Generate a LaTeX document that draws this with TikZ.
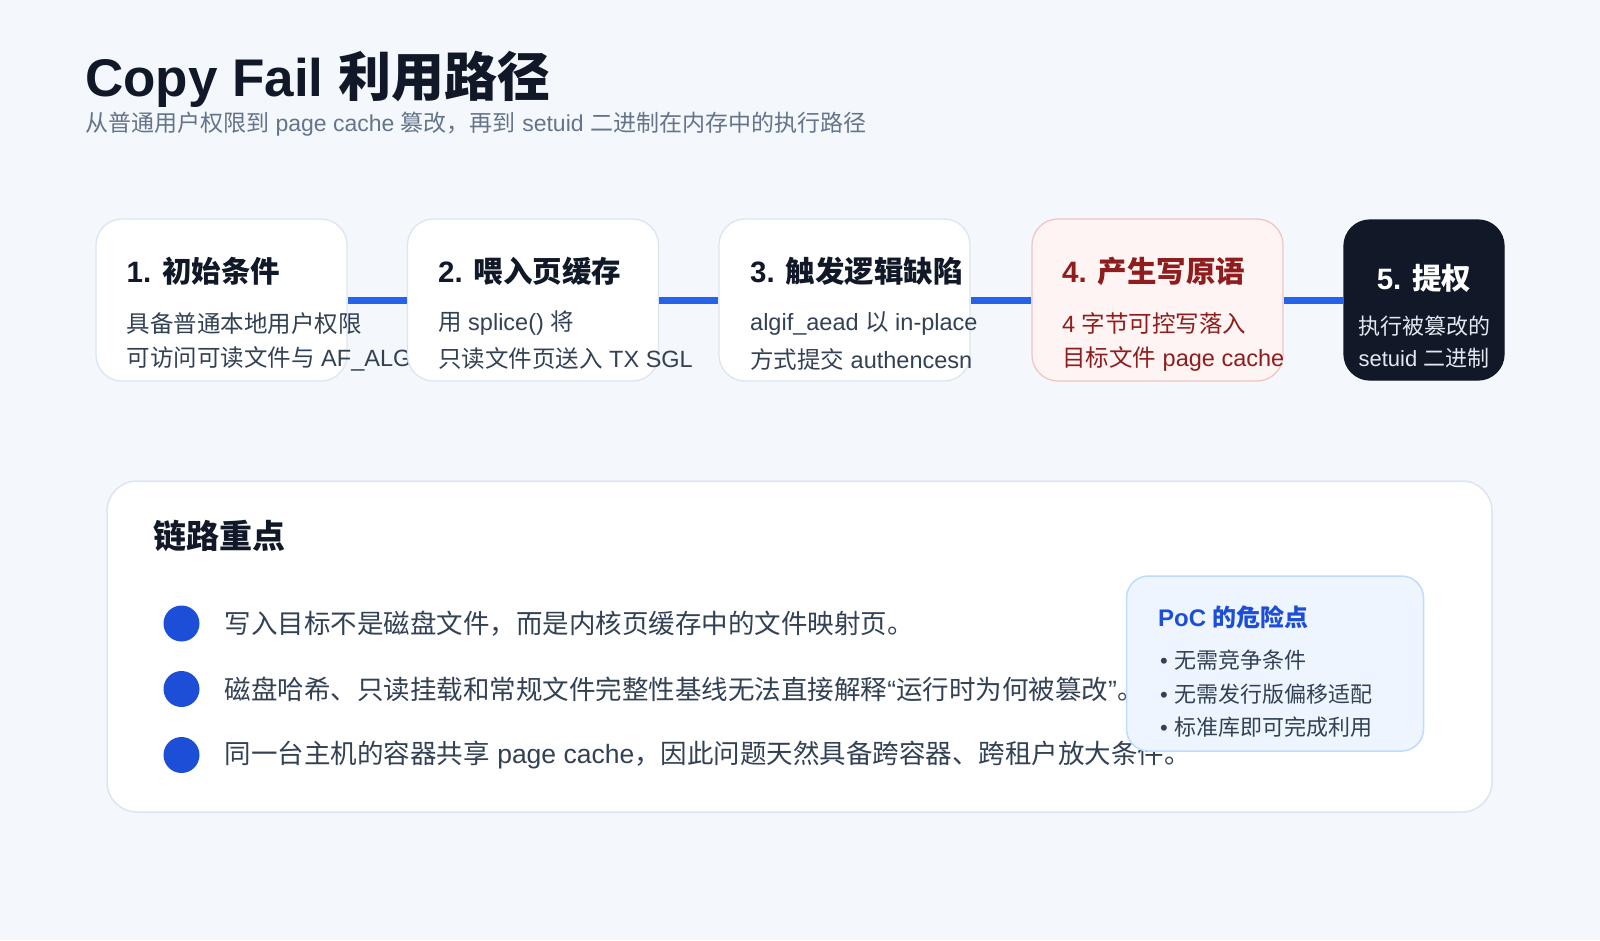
\documentclass[tikz,border=0pt]{standalone}
\usepackage{fontspec}
\setmainfont{Liberation Sans}
\newfontfamily\cjkfam{Noto Sans CJK SC}
\newfontfamily\latfam{Liberation Sans}
\usetikzlibrary{positioning}

% switch to the CJK face for Han characters and CJK punctuation
\XeTeXinterchartokenstate=1
\newXeTeXintercharclass\hanclass
\newcount\hancode
\hancode="4E00
\loop \XeTeXcharclass\hancode=\hanclass \advance\hancode 1 \ifnum\hancode<"A000 \repeat
\hancode="3000
\loop \XeTeXcharclass\hancode=\hanclass \advance\hancode 1 \ifnum\hancode<"3040 \repeat
\hancode="FF00
\loop \XeTeXcharclass\hancode=\hanclass \advance\hancode 1 \ifnum\hancode<"FFF0 \repeat
\XeTeXcharclass"201C=0
\XeTeXcharclass"201D=0
\XeTeXcharclass"2022=0
\XeTeXinterchartoks 0 \hanclass = {\cjkfam}
\XeTeXinterchartoks 4095 \hanclass = {\cjkfam}
\XeTeXinterchartoks \hanclass 0 = {\latfam}
\XeTeXinterchartoks \hanclass 4095 = {\latfam}

\definecolor{paper}{HTML}{F4F7FB}
\definecolor{ink}{HTML}{111827}
\definecolor{slate}{HTML}{334155}
\definecolor{muted}{HTML}{64748B}
\definecolor{cardline}{HTML}{DCE5F0}
\definecolor{wire}{HTML}{2563EB}
\definecolor{hotfill}{HTML}{FEF4F3}
\definecolor{hotline}{HTML}{F3C4C4}
\definecolor{hotink}{HTML}{8F1D1D}
\definecolor{navy}{HTML}{111827}
\definecolor{navytext}{HTML}{E2E8F0}
\definecolor{accent}{HTML}{1D4ED8}
\definecolor{pocfill}{HTML}{EEF5FF}
\definecolor{pocline}{HTML}{BFDBFE}

\tikzset{
    stepcard/.style={
        draw=cardline, line width=1.3pt, fill=white,
        rounded corners=26pt, inner sep=0pt,
        minimum width=251pt, minimum height=162pt,
    },
    hotcard/.style={stepcard, draw=hotline, fill=hotfill},
    darkcard/.style={stepcard, draw=navy, fill=navy,
        minimum width=160pt, minimum height=160pt},
    steptitle/.style={anchor=west, inner sep=0pt, text=ink,
        font=\fontsize{29.5}{34}\selectfont\bfseries},
    steptext/.style={anchor=west, inner sep=0pt, text=slate,
        font=\fontsize{23.5}{28}\selectfont},
    link/.style={draw=wire, line width=7pt},
    panel/.style={draw=cardline, line width=1.5pt, fill=white,
        rounded corners=30pt, inner sep=0pt,
        minimum width=1385pt, minimum height=331pt},
    dot/.style={circle, fill=accent, inner sep=0pt, minimum size=36pt},
    note/.style={inner sep=0pt, text=slate,
        font=\fontsize{26.5}{30}\selectfont},
    pocbox/.style={draw=pocline, line width=1.5pt, fill=pocfill,
        rounded corners=22pt, inner sep=0pt,
        minimum width=297pt, minimum height=175pt},
    pocitem/.style={anchor=west, inner sep=0pt, text=slate,
        font=\fontsize{22}{26}\selectfont},
}

\begin{document}
\begin{tikzpicture}[x=1pt, y=-1pt]
    \fill[paper] (0,0) rectangle (1600,940);
    \useasboundingbox (0,0) rectangle (1600,940);

    % heading
    \node[anchor=base west, inner sep=0pt, text=ink,
        font=\fontsize{53}{60}\selectfont\bfseries] (title) at (85,96)
        {Copy Fail 利用路径};
    \node[anchor=west, inner sep=0pt, text=muted,
        font=\fontsize{23}{28}\selectfont] (subtitle) at (85,124)
        {从普通用户权限到 page cache 篡改，再到 setuid 二进制在内存中的执行路径};

    % the five steps
    \node[stepcard] (s1) at (221.5,300) {};
    \node[steptitle] (s1t) at (126.5,271) {1. 初始条件};
    \node[steptext] (s1a) at (126.5,323.5) {具备普通本地用户权限};
    \node[steptext] (s1b) at (126.5,359) {可访问可读文件与 AF\_ALG};

    \node[stepcard] (s2) at (533,300) {};
    \node[steptitle] (s2t) at (438,271) {2. 喂入页缓存};
    \node[steptext] (s2a) at (438,323.5) {用 splice() 将};
    \node[steptext] (s2b) at (438,359) {只读文件页送入 TX SGL};

    \node[stepcard] (s3) at (844.5,300) {};
    \node[steptitle] (s3t) at (750,271) {3. 触发逻辑缺陷};
    \node[steptext] (s3a) at (750,323.5) {algif\_aead 以 in-place};
    \node[steptext] (s3b) at (750,359) {方式提交 authencesn};

    \node[hotcard] (s4) at (1157.5,300) {};
    \node[steptitle, text=hotink] (s4t) at (1062,271) {4. 产生写原语};
    \node[steptext, text=hotink] (s4a) at (1062,323.5) {4 字节可控写落入};
    \node[steptext, text=hotink] (s4b) at (1062,359) {目标文件 page cache};

    \node[darkcard] (s5) at (1424,300) {};
    \node[steptitle, anchor=center, text=white] (s5t) at (1424,278.5) {5. 提权};
    \node[steptext, anchor=center, text=navytext,
        font=\fontsize{22}{26}\selectfont] (s5a) at (1424,326.5) {执行被篡改的};
    \node[steptext, anchor=center, text=navytext,
        font=\fontsize{22}{26}\selectfont] (s5b) at (1424,358) {setuid 二进制};

    \draw[link] (s1.east) -- (s2.west);
    \draw[link] (s2.east) -- (s3.west);
    \draw[link] (s3.east) -- (s4.west);
    \draw[link] (s4.east) -- (s5.west);

    % key points
    \node[panel] (notes) at (799.5,646.5) {};
    \node[anchor=west, inner sep=0pt, text=ink,
        font=\fontsize{33}{38}\selectfont\bfseries] (notestitle) at (153,535.5)
        {链路重点};

    \node[dot] (d1) at (181.5,623.5) {};
    \node[note, right=25pt of d1] (n1)
        {写入目标不是磁盘文件，而是内核页缓存中的文件映射页。};
    \node[dot] (d2) at (181.5,689) {};
    \node[note, right=25pt of d2] (n2)
        {磁盘哈希、只读挂载和常规文件完整性基线无法直接解释“运行时为何被篡改”。};
    \node[dot] (d3) at (181.5,755) {};
    \node[note, right=25pt of d3] (n3)
        {同一台主机的容器共享 page cache，因此问题天然具备跨容器、跨租户放大条件。};

    \node[pocbox] (poc) at (1275,663.5) {};
    \node[anchor=west, inner sep=0pt, text=accent,
        font=\fontsize{24}{28}\selectfont\bfseries] (poctitle) at (1158,617)
        {PoC 的危险点};
    \node[pocitem] (p1) at (1160,660) {• 无需竞争条件};
    \node[pocitem] (p2) at (1160,694) {• 无需发行版偏移适配};
    \node[pocitem] (p3) at (1160,727.5) {• 标准库即可完成利用};
\end{tikzpicture}
\end{document}
